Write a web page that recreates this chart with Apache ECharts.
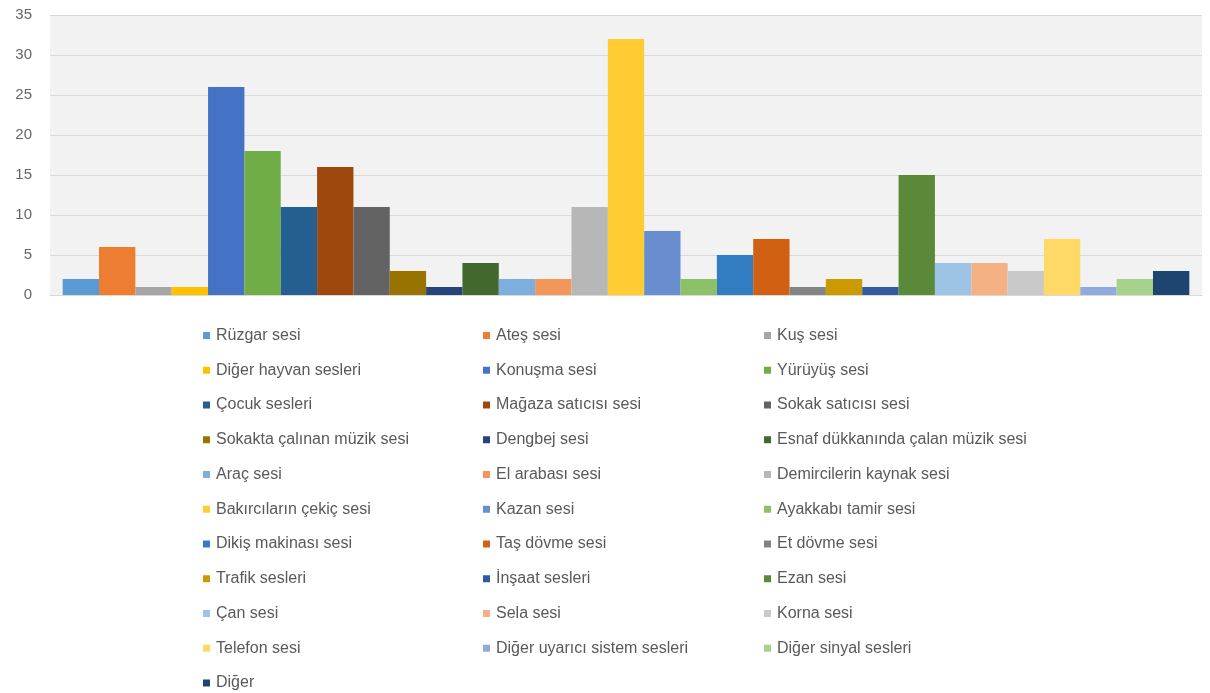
<!DOCTYPE html>
<html>
<head>
<meta charset="utf-8">
<script src="https://cdn.jsdelivr.net/npm/echarts@6/dist/echarts.min.js"></script>
<style>html,body{margin:0;padding:0;background:#fff;}#c{width:1210px;height:693px;}</style>
</head>
<body>
<div id="c"></div>
<script>
const categories = [''];
const seriesNames = [
  'Rüzgar sesi','Ateş sesi','Kuş sesi',
  'Diğer hayvan sesleri','Konuşma sesi','Yürüyüş sesi',
  'Çocuk sesleri','Mağaza satıcısı sesi','Sokak satıcısı sesi',
  'Sokakta çalınan müzik sesi','Dengbej sesi','Esnaf dükkanında çalan müzik sesi',
  'Araç sesi','El arabası sesi','Demircilerin kaynak sesi',
  'Bakırcıların çekiç sesi','Kazan sesi','Ayakkabı tamir sesi',
  'Dikiş makinası sesi','Taş dövme sesi','Et dövme sesi',
  'Trafik sesleri','İnşaat sesleri','Ezan sesi',
  'Çan sesi','Sela sesi','Korna sesi',
  'Telefon sesi','Diğer uyarıcı sistem sesleri','Diğer sinyal sesleri',
  'Diğer'
];
const seriesValues = [
  2, 6, 1,
  1, 26, 18,
  11, 16, 11,
  3, 1, 4,
  2, 2, 11,
  32, 8, 2,
  5, 7, 1,
  2, 1, 15,
  4, 4, 3,
  7, 1, 2,
  3
];
const yTicks = [0, 5, 10, 15, 20, 25, 30, 35];

const palette = [
  '#5B9BD5','#ED7D31','#A5A5A5','#FFC000','#4472C4','#70AD47',
  '#255E91','#9E480E','#636363','#997300','#264478','#43682B',
  '#7CAFDD','#F1975A','#B7B7B7','#FFCD33','#698ED0','#8CC168',
  '#327DC2','#D26012','#848484','#CC9A00','#335AA1','#5A8A39',
  '#9DC3E6','#F4B183','#C9C9C9','#FFD966','#8FAADC','#A9D18E',
  '#1E4470'
];

const series = seriesNames.map((n, i) => ({
  name: n,
  type: 'bar',
  data: [seriesValues[i]],
  barGap: '0%',
  barCategoryGap: '2.2%',
  itemStyle: { color: palette[i] },
  animation: false
}));

const cols = [[], [], []];
seriesNames.forEach((n, i) => cols[i % 3].push(n));
const legendLefts = [203, 483, 764];
const legends = cols.map((d, k) => ({
  data: d,
  orient: 'vertical',
  left: legendLefts[k],
  top: 327.5,
  padding: 0,
  icon: 'rect',
  itemWidth: 7,
  itemHeight: 7,
  itemGap: 18.75,
  selectedMode: false,
  textStyle: { color: '#595959', fontSize: 16, lineHeight: 16, fontFamily: 'Liberation Sans', padding: [0, 0, 0, 1] }
}));

const chart = echarts.init(document.getElementById('c'));
chart.setOption({
  backgroundColor: '#ffffff',
  animation: false,
  grid: { left: 50, right: 8, top: 15, bottom: 398, show: true, backgroundColor: '#f2f2f2', borderWidth: 0 },
  legend: legends,
  xAxis: {
    type: 'category',
    data: categories,
    axisTick: { show: false },
    axisLabel: { show: false },
    axisLine: { lineStyle: { color: '#d9d9d9' } }
  },
  yAxis: {
    type: 'value',
    min: yTicks[0],
    max: yTicks[yTicks.length - 1],
    interval: 5,
    axisLine: { show: false },
    axisTick: { show: false },
    axisLabel: { color: '#666666', fontSize: 15, fontFamily: 'Liberation Sans', margin: 18 },
    splitLine: { lineStyle: { color: '#d9d9d9', width: 1 } }
  },
  series: series
});
</script>
</body>
</html>
